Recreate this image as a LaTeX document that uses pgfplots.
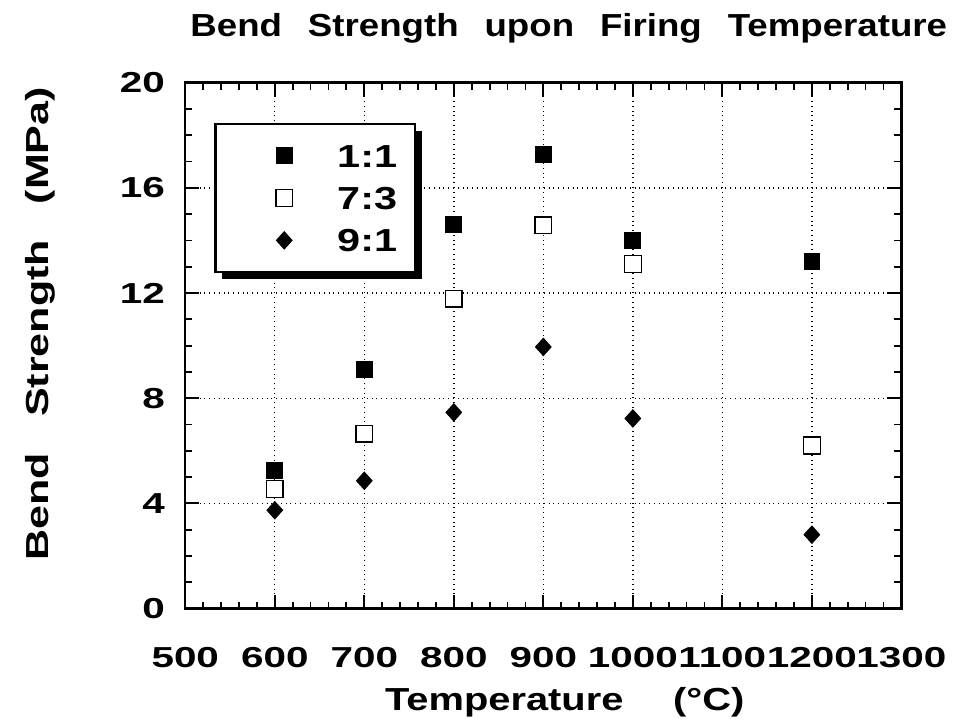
\documentclass[border=0pt]{standalone}
\usepackage{fontspec}
\setmainfont{Liberation Sans}
\newfontfamily\tickfont{Liberation Sans}[FakeStretch=1.4]
\newfontfamily\labfont{Liberation Sans}[FakeStretch=1.25]
\newfontfamily\ylabfont{Liberation Sans}[FakeStretch=1.35]
\newfontfamily\titfont{Liberation Sans}[FakeStretch=1.15]
\newfontfamily\legfont{Liberation Sans}[FakeStretch=1.3]
\usepackage{pgfplots}
\pgfplotsset{compat=1.18}
\usetikzlibrary{shadows}

\pgfplotstableread{
T S
600 5.25
700 9.1
800 14.6
900 17.27
1000 14.0
1200 13.2
}\oneone
\pgfplotstableread{
T S
600 4.55
700 6.65
800 11.78
900 14.58
1000 13.1
1200 6.2
}\seventhree
\pgfplotstableread{
T S
600 3.74
700 4.86
800 7.46
900 9.95
1000 7.23
1200 2.81
}\nineone

\begin{document}
\begin{tikzpicture}
\begin{axis}[
  scale only axis, width=359.5pt, height=264pt,
  clip=false,
  xmin=500, xmax=1300, ymin=0, ymax=20,
  xtick={500,600,...,1300}, ytick={0,4,...,20},
  minor x tick num=4, minor y tick num=3,
  tick align=inside, xtick pos=both, ytick pos=both,
  major tick length=7pt, minor tick length=3.5pt,
  tick style={black, line width=0.9pt},
  axis line style={line width=1.2pt},
  grid=major, major grid style={dotted, black, line width=0.7pt},
  /pgf/number format/assume math mode=true,
  /pgf/number format/1000 sep={},
  xticklabel style={font=\fontsize{14.5}{16}\tickfont\bfseries, anchor=base, yshift=-29.5pt},
  yticklabel style={font=\fontsize{14.5}{16}\tickfont\bfseries, anchor=east, inner sep=0pt, xshift=-10pt},
  title={Bend\hspace{13pt}Strength\hspace{13pt}upon\hspace{13pt}Firing\hspace{13pt}Temperature},
  title style={at={(axis description cs:0.5355,1)}, anchor=base, yshift=17pt, inner sep=0pt, font=\fontsize{16}{19}\titfont\bfseries},
  xlabel={Temperature\hspace{25pt}(°C)},
  xlabel style={at={(axis description cs:0.53,0)}, anchor=base, yshift=-51pt, inner sep=0pt, font=\fontsize{16}{19}\labfont\bfseries},
  ylabel={Bend\hspace{18pt}Strength\hspace{18pt}(MPa)},
  ylabel style={at={(axis description cs:-0.203,0.5417)}, anchor=center, inner sep=0pt, font=\fontsize{16}{19}\ylabfont\bfseries},
  legend style={at={(axis description cs:0.0403,0.924)}, anchor=north west, draw=black, line width=1.2pt, fill=white,
    inner xsep=9pt, inner ysep=10.25pt, row sep=9.75pt, column sep=0pt,
    font=\fontsize{16}{19}\legfont\bfseries,
    nodes={inner sep=0pt, text height=11.5pt, text depth=0pt},
    drop shadow={shadow xshift=3.5pt, shadow yshift=-3.5pt, fill=black, opacity=1}},
  legend cell align=left,
  legend image code/.code={\path (0pt,0pt) (51pt,0pt); \draw[#1] plot coordinates {(25pt,0pt)};},
]
\addplot[only marks, mark=square*, mark size=4pt, mark options={fill=black, draw=black, line width=0.4pt}] table[x=T, y=S] {\oneone};
\addlegendentry{1:1}
\addplot[only marks, mark=square*, mark size=4.2pt, mark options={fill=white, draw=black, line width=0.7pt}] table[x=T, y=S] {\seventhree};
\addlegendentry{7:3}
\addplot[only marks, mark=diamond*, mark size=4.4pt, mark options={fill=black, draw=black, line width=0.4pt, xscale=1.2}] table[x=T, y=S] {\nineone};
\addlegendentry{9:1}
\path (rel axis cs:-0.2587,-0.2083) rectangle (rel axis cs:1.0667,1.1572);
\end{axis}
\end{tikzpicture}
\end{document}
